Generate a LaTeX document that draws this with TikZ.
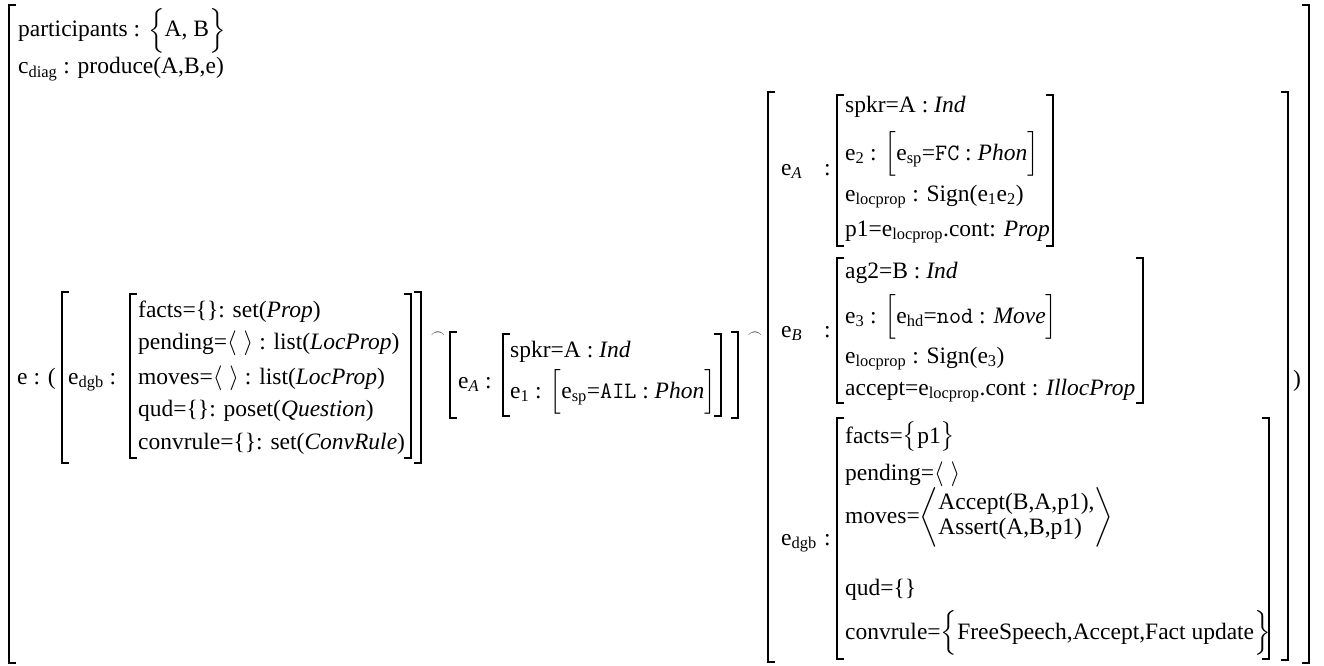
\documentclass[tikz,border=0pt]{standalone}
\usepackage{amsmath}
\usepackage{exscale}
\usepackage{fontspec}
\setmainfont{Liberation Serif}

\newcommand{\low}[1]{\textsubscript{#1}}
\newcommand{\dlm}[1]{\smash{$#1$}}
\newcommand{\bropen}[3]{\draw[brk] (#1+7,#2) -- (#1,#2) -- (#1,#3) -- (#1+7,#3);}
\newcommand{\brclose}[3]{\draw[brk] (#1-7,#2) -- (#1,#2) -- (#1,#3) -- (#1-7,#3);}

\begin{document}
\begin{tikzpicture}[x=1pt, y=-1pt, font=\fontsize{23.5}{25}\selectfont,
  brk/.style={line width=1.6pt},
  row/.style={anchor=base west, inner sep=0pt},
  cat/.style={font=\fontsize{15}{15}\selectfont, inner sep=0pt}]
  \useasboundingbox (0,0) rectangle (1324,666);
  % outer record
  \bropen{9}{5}{663}
  \brclose{1309}{5}{663}
  \node[row] (parts) at (18,37) {participants : \dlm{\Big\{}A, B\dlm{\Big\}}};
  \node[row] (cdiag) at (18,74) {c\low{diag} : produce(A,B,e)};
  \node[row] (efld) at (17,384) {e : (};

  % first part
  \bropen{62}{292}{463}
  \brclose{421}{292}{463}
  \node[row] (dgblab) at (68,384) {e\low{dgb} :};
  \bropen{130}{294}{458}
  \brclose{411}{294}{458}
  \node[row] (facts0) at (138,317) {facts=\{\}: set(\textit{Prop})};
  \node[row] (pend0) at (138,349) {pending=$\langle\;\rangle$ : list(\textit{LocProp})};
  \node[row] (moves0) at (138,384) {moves=$\langle\;\rangle$ : list(\textit{LocProp})};
  \node[row] (qud0) at (138,416) {qud=\{\}: poset(\textit{Question})};
  \node[row] (conv0) at (138,449) {convrule=\{\}: set(\textit{ConvRule})};
  \node[cat] (cat1) at (438,335) {$\frown$};

  % second part
  \bropen{450}{332}{418}
  \brclose{738}{332}{418}
  \node[row] (alab1) at (458,388) {e\low{\textit{A}} :};
  \bropen{503}{334}{416}
  \brclose{721}{334}{416}
  \node[row] (spkr1) at (510,357) {spkr=A : \textit{Ind}};
  \node[row] (eone) at (510,398) {e\low{1} : \dlm{\Big[}e\low{sp}=\texttt{AIL} : \textit{Phon}\dlm{\Big]}};
  \node[cat] (cat2) at (755,335) {$\frown$};

  % third part
  \bropen{768}{92}{662}
  \brclose{1288}{92}{660}
  \node (rpar) at (1297,381) {)};
  \node[row] (alab2) at (781,175) {e\low{\textit{A}}};
  \node[row] (blab) at (781,337) {e\low{\textit{B}}};
  \node[row] (dgblab2) at (781,545) {e\low{dgb}};
  \foreach \y in {175,337,545} { \node[row] (col\y) at (824,\y) {:}; }

  \bropen{837}{95}{246}
  \brclose{1053}{95}{246}
  \node[row] (spkr2) at (845,113) {spkr=A : \textit{Ind}};
  \node[row] (etwo) at (845,160) {e\low{2} : \dlm{\Big[}e\low{sp}=\texttt{FC} : \textit{Phon}\dlm{\Big]}};
  \node[row] (locA) at (845,201) {e\low{locprop} : Sign(e\low{1}e\low{2})};
  \node[row] (pone) at (845,236) {p1=e\low{locprop}.cont: \textit{Prop}};

  \bropen{837}{258}{403}
  \brclose{1143}{258}{403}
  \node[row] (agtwo) at (845,278) {ag2=B : \textit{Ind}};
  \node[row] (ethree) at (845,323) {e\low{3} : \dlm{\Big[}e\low{hd}=\texttt{nod} : \textit{Move}\dlm{\Big]}};
  \node[row] (locB) at (845,363) {e\low{locprop} : Sign(e\low{3})};
  \node[row] (accept) at (845,395) {accept=e\low{locprop}.cont : \textit{IllocProp}};

  \bropen{837}{418}{659}
  \brclose{1269}{418}{659}
  \node[row] (facts1) at (845,443) {facts=\dlm{\big\{}p1\dlm{\big\}}};
  \node[row] (pend1) at (845,480) {pending=$\langle\;\rangle$};
  \node[anchor=west, inner sep=0pt] (moves1) at (845,517)
    {moves=$\left\langle\begin{tabular}{@{}l@{}}Accept(B,A,p1),\\Assert(A,B,p1)\end{tabular}\right\rangle$};
  \node[row] (qud1) at (845,595) {qud=\{\}};
  \node[row] (conv1) at (845,639) {convrule=\dlm{\Big\{}FreeSpeech,Accept,Fact update\dlm{\Big\}}};
\end{tikzpicture}
\end{document}
